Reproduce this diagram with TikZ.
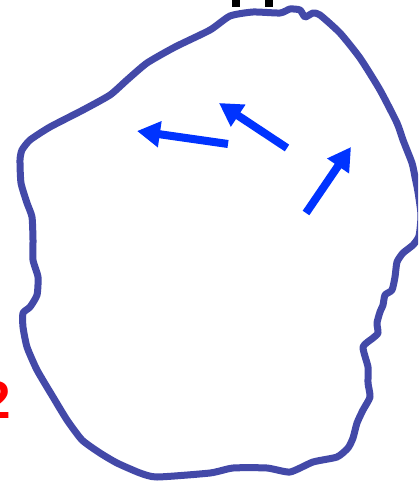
\documentclass[tikz,border=0pt]{standalone}
\usepackage{fontspec}
\setmainfont{Liberation Sans}
\usetikzlibrary{arrows.meta}
\definecolor{outl}{RGB}{67,73,168}
\definecolor{arr}{RGB}{0,51,255}
\definecolor{redtxt}{RGB}{255,0,0}
\tikzset{
  outline/.style={draw=outl,line width=7pt,line join=round,line cap=round},
  bluearrow/.style={draw=arr,line width=8pt,-{Triangle[width=25pt,length=23pt]}},
}
\begin{document}
\begin{tikzpicture}[x=1pt,y=-1pt]
\useasboundingbox (0,0) rectangle (418,482);
\clip (0,0) rectangle (418,482);
\fill[white] (0,0) rectangle (418,482);
% outline
\draw[outline] plot[smooth cycle,tension=0.35] coordinates {
(20,160) (22,150) (30,140) (50,127) (83,110) (110,95) (127,80) (147,63) (175,47) (210,30)
(230,16) (253,12) (280,13) (290,9) (300,10) (305,17) (313,13) (320,15) (340,33) (360,58)
(380,90) (397,123) (403,140) (412,163) (415,177) (418,192) (421,215) (419,236) (413,245)
(403,253) (397,262) (395,277) (392,290) (385,295) (383,305) (380,312) (377,323) (378,333)
(373,338) (363,347) (368,367) (368,383) (370,397) (363,410) (357,423) (353,438) (348,448)
(337,457) (313,462) (290,472) (267,468) (233,468) (210,473) (157,477) (140,473) (117,463)
(100,453) (82,440) (67,420) (53,397) (37,370) (27,347) (23,327) (23,313) (30,307) (37,295)
(38,277) (33,260) (33,240) (32,217) (27,203) (21,183)
};
% arrows
\coordinate (a1s) at (228,144);
\coordinate (a1e) at (137,131);
\coordinate (a2s) at (287,148);
\coordinate (a2e) at (219,103);
\coordinate (a3s) at (306,213);
\coordinate (a3e) at (351,147);
\draw[bluearrow] (a1s) -- (a1e);
\draw[bluearrow] (a2s) -- (a2e);
\draw[bluearrow] (a3s) -- (a3e);
% red label (cut off at left edge)
\node[anchor=base east,inner sep=0pt,text=redtxt,font=\bfseries\fontsize{53}{60}\selectfont] (lbl) at (11,418) {2};
% fragments of cut-off text at top
\fill[black] (232,0) rectangle (240,7);
\fill[black] (265,0) rectangle (273,7);
\end{tikzpicture}
\end{document}
